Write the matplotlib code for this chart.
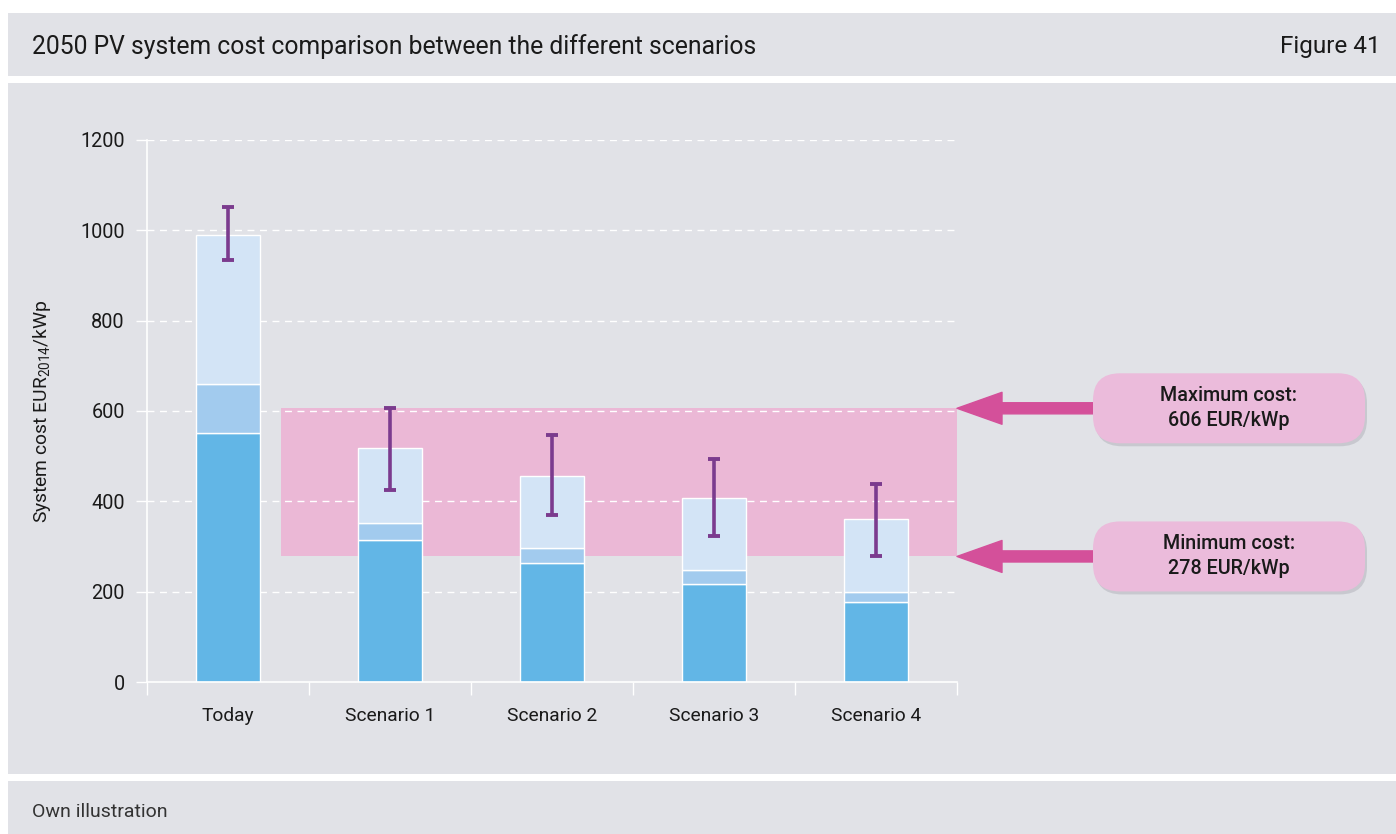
import numpy as np
import matplotlib
matplotlib.use("Agg")
import matplotlib.pyplot as plt
from matplotlib.patches import Rectangle, FancyBboxPatch

# ── data (EUR2014/kWp) ─────────────────────────────────────────────────────
categories = ["Today", "Scenario 1", "Scenario 2", "Scenario 3", "Scenario 4"]
base_cost = [551, 314, 263, 217, 177]
mid_cost = [109, 38, 34, 31, 22]
top_cost = [330, 166, 159, 159, 162]
err_low = [934, 425, 370, 323, 278]
err_high = [1052, 606, 547, 494, 438]
yticks = [0, 200, 400, 600, 800, 1000, 1200]

BG = "#e1e2e7"
C_BASE, C_MID, C_TOP = "#62b6e6", "#a2cbee", "#d3e4f6"
C_ERR = "#7b3b8e"
C_BAND = "#ebb8d6"
C_ARROW = "#d4509a"
C_BOX = "#ebbbdb"
TXT = "#1a1a1a"

plt.rcParams["font.family"] = ["Roboto", "DejaVu Sans"]

W, H = 13.96, 8.34
fig = plt.figure(figsize=(W, H), dpi=100)
fig.patch.set_facecolor("white")
inch = fig.dpi_scale_trans


def panel(top, bottom):
    # gray panel given pixel rows from the top
    fig.add_artist(Rectangle((0.08, H - bottom / 100), W - 0.08, (bottom - top) / 100,
                             transform=inch, facecolor=BG, edgecolor="none", zorder=-5))


panel(13, 76)
panel(83, 774)
panel(781, 834)

fig.text(0.32, H - 0.47, "2050 PV system cost comparison between the different scenarios",
         transform=inch, va="center", ha="left", fontsize=17.8, color=TXT)
fig.text(13.81, H - 0.47, "Figure 41", transform=inch, va="center", ha="right",
         fontsize=17.5, color=TXT)
fig.text(0.32, H - 8.12, "Own illustration", transform=inch, va="center", ha="left",
         fontsize=14, color="#333333")

# ── axes ───────────────────────────────────────────────────────────────────
ax = fig.add_axes([147 / 1396, (834 - 682) / 834, 810 / 1396, 542 / 834])
ax.set_facecolor("none")

x = np.arange(len(categories))
base = np.array(base_cost)
mid = np.array(mid_cost)
top = np.array(top_cost)
total = base + mid + top
lo = np.array(err_low)
hi = np.array(err_high)

bw = 0.4
ax.bar(x, base, bw, color=C_BASE, edgecolor="white", linewidth=1, zorder=2)
ax.bar(x, mid, bw, bottom=base, color=C_MID, edgecolor="white", linewidth=1, zorder=2)
ax.bar(x, top, bw, bottom=base + mid, color=C_TOP, edgecolor="white", linewidth=1, zorder=2)
ax.errorbar(x, total, yerr=[total - lo, hi - total], fmt="none", ecolor=C_ERR,
            elinewidth=2.6, capsize=4.5, capthick=2.8, zorder=4)

# range of the 2050 scenarios
band_lo, band_hi = lo[1:].min(), hi[1:].max()
ax.add_patch(Rectangle((0.33, band_lo), 4.5 - 0.33, band_hi - band_lo,
                       facecolor=C_BAND, edgecolor="none", zorder=0.3))

ax.set_xlim(-0.5, 4.5)
ax.set_ylim(0, 1200)
ax.set_yticks(yticks)
ax.set_xticks(x)
ax.set_xticklabels(categories)
ax.set_xticks(np.arange(-0.5, 4.6, 1), minor=True)

ax.set_axisbelow(True)
ax.yaxis.grid(True, color="white", linestyle=(0, (5, 4)), linewidth=1)

for s in ["top", "right"]:
    ax.spines[s].set_visible(False)
for s in ["left", "bottom"]:
    ax.spines[s].set_color("white")
    ax.spines[s].set_linewidth(1.2)

ax.tick_params(axis="y", length=8, width=1, color="white", labelsize=14.3,
               labelcolor=TXT, pad=8)
ax.tick_params(axis="x", which="major", length=0, labelsize=13.8, labelcolor=TXT, pad=18)
ax.tick_params(axis="x", which="minor", length=9, width=1, color="white")

ax.set_ylabel(r"System cost EUR$\mathregular{_{2014}}$/kWp", fontsize=13.9, color=TXT)
ax.yaxis.set_label_coords(-0.116, 0.5)

# ── callouts ───────────────────────────────────────────────────────────────
fig.canvas.draw()
for val, name in [(band_hi, "Maximum cost"), (band_lo, "Minimum cost")]:
    ax.annotate("", xy=(1.0, val), xycoords=ax.get_yaxis_transform(),
                xytext=(1.17, val), textcoords=ax.get_yaxis_transform(),
                arrowprops=dict(arrowstyle="simple,head_length=1.62,head_width=1.15,tail_width=0.4",
                                mutation_scale=20, color=C_ARROW, shrinkA=0, shrinkB=0),
                annotation_clip=False, zorder=5)
    yc = ax.transData.transform((0, val))[1] / fig.dpi
    for dx, dy, fc, a in [(0.02, -0.03, "#9a9aa5", 0.35), (0, 0, C_BOX, 1)]:
        fig.add_artist(FancyBboxPatch((10.93 + dx, yc - 0.35 + dy), 2.72, 0.70,
                                      boxstyle="round,pad=0,rounding_size=0.27",
                                      transform=inch, facecolor=fc, edgecolor="none",
                                      alpha=a, zorder=6))
    fig.text(12.29, yc, f"{name}:\n{val} EUR/kWp", transform=inch, ha="center",
             va="center", fontsize=14.2, fontweight="medium", color=TXT,
             linespacing=1.4, zorder=7)

fig.savefig("out.png", dpi=100, facecolor="white")
